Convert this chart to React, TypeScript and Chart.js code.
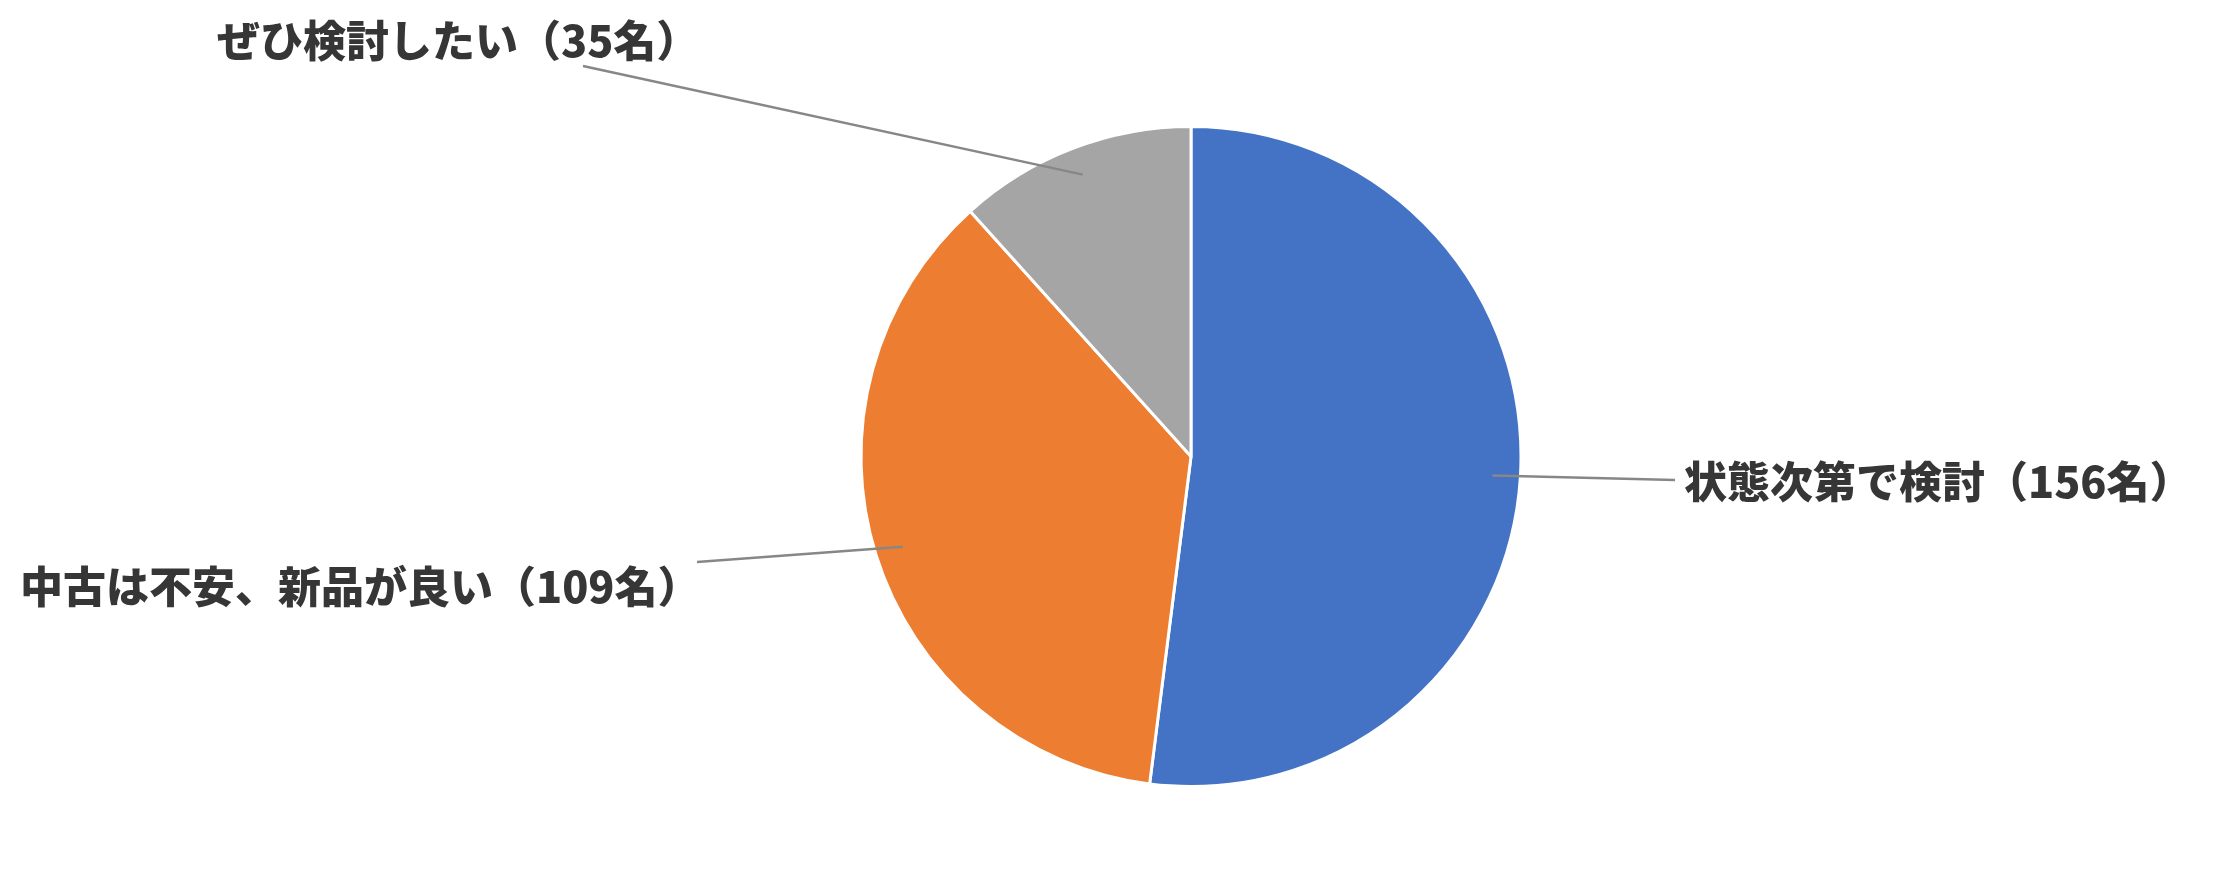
import React, { useEffect, useRef } from "react";
import { Chart, registerables } from "chart.js";

Chart.register(...registerables);

// ---- data ----
const categories = ["状態次第で検討", "中古は不安、新品が良い", "ぜひ検討したい"];
const counts = [156, 109, 35];
const unit = "名";
const sliceColors = ["#4472C4", "#ED7D31", "#A5A5A5"];

const labelTexts = categories.map((c, i) => `${c}（${counts[i]}${unit}）`);

// ---- label layout (leader line end point, text left / middle) ----
const labelLayout = [
  { lineEnd: [1675, 480], text: [1684, 482] },
  { lineEnd: [697, 562], text: [20, 587] },
  { lineEnd: [583, 66], text: [217, 41] },
];

const W = 2214;
const H = 889;

const leaderPlugin = {
  id: "leaderLabels",
  afterDatasetsDraw(chart: any) {
    const ctx = chart.ctx as CanvasRenderingContext2D;
    const meta = chart.getDatasetMeta(0);
    ctx.save();
    meta.data.forEach((arc: any, i: number) => {
      const p = arc.getProps(["x", "y", "startAngle", "endAngle", "outerRadius"], true);
      const mid = (p.startAngle + p.endAngle) / 2;
      const r = p.outerRadius * 0.915;
      const sx = p.x + Math.cos(mid) * r;
      const sy = p.y + Math.sin(mid) * r;
      const lay = labelLayout[i];
      ctx.beginPath();
      ctx.moveTo(sx, sy);
      ctx.lineTo(lay.lineEnd[0], lay.lineEnd[1]);
      ctx.strokeStyle = "#878787";
      ctx.lineWidth = 2.5;
      ctx.stroke();
    });
    ctx.font = "900 43px 'Noto Sans CJK JP', 'Noto Sans CJK SC', sans-serif";
    ctx.fillStyle = "#363636";
    ctx.textAlign = "left";
    ctx.textBaseline = "middle";
    labelTexts.forEach((t, i) => {
      const lay = labelLayout[i];
      ctx.fillText(t, lay.text[0], lay.text[1]);
    });
    ctx.restore();
  },
};

export default function App() {
  const ref = useRef<HTMLCanvasElement | null>(null);
  useEffect(() => {
    if (!ref.current) return;
    const chart = new Chart(ref.current, {
      type: "pie",
      data: {
        labels: categories,
        datasets: [
          {
            data: counts,
            backgroundColor: sliceColors,
            borderColor: "#FFFFFF",
            borderWidth: 3,
            hoverOffset: 0,
          },
        ],
      },
      options: {
        responsive: false,
        animation: false,
        events: [],
        radius: 330,
        layout: { padding: { left: 862, right: 694, top: 129, bottom: 105 } },
        plugins: {
          legend: { display: false },
          tooltip: { enabled: false },
          title: { display: false },
        },
      } as any,
      plugins: [leaderPlugin],
    });
    return () => chart.destroy();
  }, []);
  return (
    <div style={{ position: "absolute", left: 0, top: 0, width: W, height: H, background: "#fff" }}>
      <canvas ref={ref} width={W} height={H} style={{ width: W, height: H, display: "block" }} />
    </div>
  );
}
